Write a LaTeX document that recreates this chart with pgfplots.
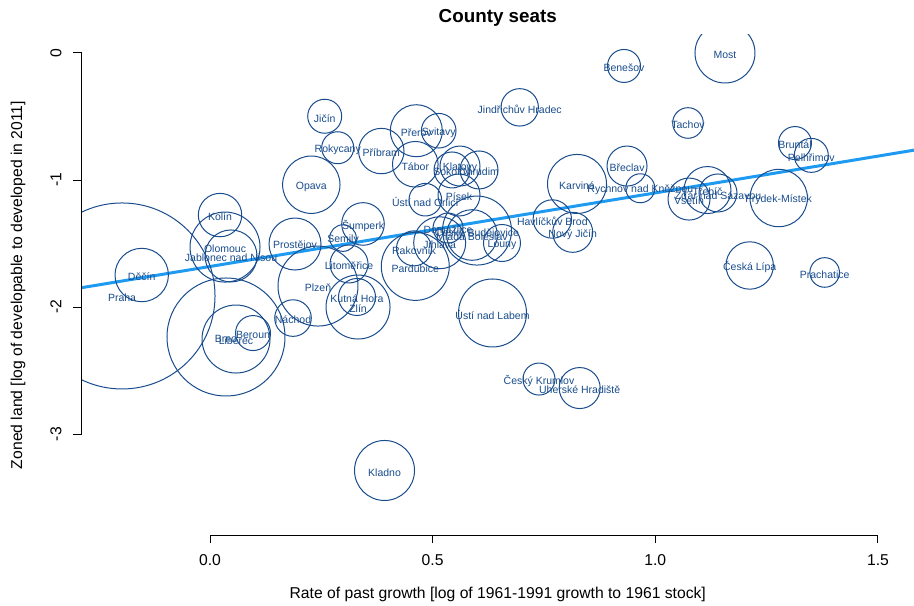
\documentclass[border=0pt]{standalone}
\usepackage{pgfplots}
\pgfplotsset{compat=1.18}
\usepackage{pgfplotstable}
\usepackage{fontspec}
\setmainfont{Liberation Sans}

\definecolor{seat}{RGB}{24,76,140}
\definecolor{fit}{RGB}{30,155,240}

% x: log of 1961-1991 growth to 1961 stock, y: log of developable to developed land,
% r: bubble radius (pt)
\pgfplotstableread[col sep=comma]{
x,y,r,name
-0.1976,-1.913,46.5,Praha
-0.1534,-1.748,13.35,Děčín
0.0225,-1.276,10.85,Kolín
0.0337,-1.528,17.5,Olomouc
0.0472,-1.598,13.0,Jablonec nad Nisou
0.0359,-2.236,29.5,Brno
0.0584,-2.252,17.0,Liberec
0.0966,-2.205,8.75,Beroun
0.1864,-2.087,9.15,Náchod
0.1909,-1.504,13.0,Prostějov
0.2425,-1.835,20.0,Plzeň
0.3122,-1.661,9.5,Litoměřice
0.2987,-1.457,6.65,Semily
0.3436,-1.346,10.65,Šumperk
0.3301,-1.921,9.25,Kutná Hora
0.3324,-2.000,16.0,Zlín
0.2275,-1.037,14.35,Opava
0.2576,-0.498,8.5,Jičín
0.2868,-0.746,8.0,Rokycany
0.3847,-0.772,11.35,Příbram
0.4633,-0.612,13.0,Přerov
0.5136,-0.612,8.65,Svitavy
0.4610,-0.876,11.4,Tábor
0.4835,-1.155,8.15,Ústí nad Orlicí
0.5435,-0.921,9.0,Sokolov
0.5614,-0.890,10.0,Klatovy
0.6041,-0.921,9.5,Chrudim
0.5592,-1.118,10.5,Písek
0.5345,-1.378,7.5,Domažlice
0.5996,-1.398,17.25,České Budějovice
0.5884,-1.433,12.65,Mladá Boleslav
0.6557,-1.496,9.25,Louny
0.5158,-1.494,13.0,Jihlava
0.4581,-1.538,8.75,Rakovník
0.4610,-1.680,17.0,Pardubice
0.6344,-2.047,17.0,Ústí nad Labem
0.3919,-3.287,15.0,Kladno
0.6955,-0.428,9.35,Jindřichův Hradec
0.9297,-0.102,8.25,Benešov
1.1565,0.000,15.0,Most
1.0734,-0.551,7.65,Tachov
0.8242,-1.031,14.75,Karviná
0.9365,-0.890,10.0,Břeclav
0.9663,-1.065,7.25,Rychnov nad Kněžnou
0.7687,-1.307,9.6,Havlíčkův Brod
0.8145,-1.412,10.0,Nový Jičín
1.0757,-1.150,10.5,Vsetín
1.1172,-1.079,11.75,Třebíč
1.1408,-1.102,9.5,Žďár nad Sázavou
1.2771,-1.142,14.35,Frýdek-Místek
1.3137,-0.709,8.25,Bruntál
1.3503,-0.806,8.5,Pelhřimov
1.2120,-1.673,11.85,Česká Lípa
1.3804,-1.728,7.4,Prachatice
0.7388,-2.567,8.0,Český Krumlov
0.8302,-2.638,10.25,Uherské Hradiště
}\seats

\pgfplotsset{
  plotframe/.style={
    at={(40.75pt,35pt)}, anchor=south west,
    scale only axis, width=416.25pt, height=250pt,
    xmin=-0.2886, xmax=1.581, ymin=-3.795, ymax=0.1417,
  },
}

\begin{document}
\begin{tikzpicture}
\useasboundingbox (0,0) rectangle (457pt,302.5pt);
% data layer, clipped to the plot region
\begin{scope}
\clip (40.75pt,35pt) rectangle (457pt,285pt);
\begin{axis}[plotframe, hide axis, clip=false]
% bubbles, one per county seat, radius taken from column r
\addplot[
  only marks, mark=none,
  visualization depends on={\thisrow{r} \as \bubr},
  nodes near coords={},
  every node near coord/.append style={circle, draw=seat, line width=0.5pt,
    minimum size=2*\bubr pt, inner sep=0pt, outer sep=0pt, anchor=center},
] table[x=x, y=y] {\seats};
% county seat names at the bubble centres
\addplot[
  only marks, mark=none,
  point meta=explicit symbolic,
  nodes near coords,
  every node near coord/.append style={anchor=center, inner sep=0pt,
    yshift=-1pt, text=seat, font=\fontsize{5.25}{6}\selectfont},
] table[x=x, y=y, meta=name] {\seats};
% fitted regression line
\addplot[fit, line width=1.5pt] coordinates {(-0.2886,-1.848) (1.581,-0.765)};
\end{axis}
\end{scope}
% axes, ticks, title and labels
\begin{axis}[
  plotframe,
  axis x line*=bottom, axis y line*=left,
  axis line style={draw=none},
  xtick={0,0.5,1,1.5}, xticklabels={0.0,0.5,1.0,1.5},
  ytick={-3,-2,-1,0}, yticklabels={-3,-2,-1,0},
  tick align=outside, major tick length=4pt,
  tick style={black, line width=0.5pt},
  tick label style={font=\fontsize{7.85}{9}\selectfont, inner sep=0pt},
  xticklabel style={anchor=center, yshift=-8.5pt},
  yticklabel style={xshift=-8.75pt, rotate=90, anchor=center},
  title={County seats},
  title style={font=\bfseries\fontsize{9.4}{11}\selectfont,
    at={(axis description cs:0.5,1.034)}, anchor=center, yshift=-6pt, inner sep=0pt},
  xlabel={Rate of past growth [log of 1961-1991 growth to 1961 stock]},
  xlabel style={font=\fontsize{7.85}{9}\selectfont,
    at={(axis description cs:0.5,-0.118)}, anchor=center, inner sep=0pt},
  ylabel={Zoned land [log of developable to developed in 2011]},
  ylabel style={font=\fontsize{7.85}{9}\selectfont,
    at={(axis description cs:-0.0763,0.5)}, anchor=center, inner sep=0pt},
]
% end points of the axis lines, which span the tick range only
\coordinate (xa) at (axis cs:0,-3.795);
\coordinate (xb) at (axis cs:1.5,-3.795);
\coordinate (ya) at (axis cs:-0.2886,0);
\coordinate (yb) at (axis cs:-0.2886,-3);
\end{axis}
\draw[line width=0.5pt] (xa) -- (xb);
\draw[line width=0.5pt] (ya) -- (yb);
\end{tikzpicture}
\end{document}
